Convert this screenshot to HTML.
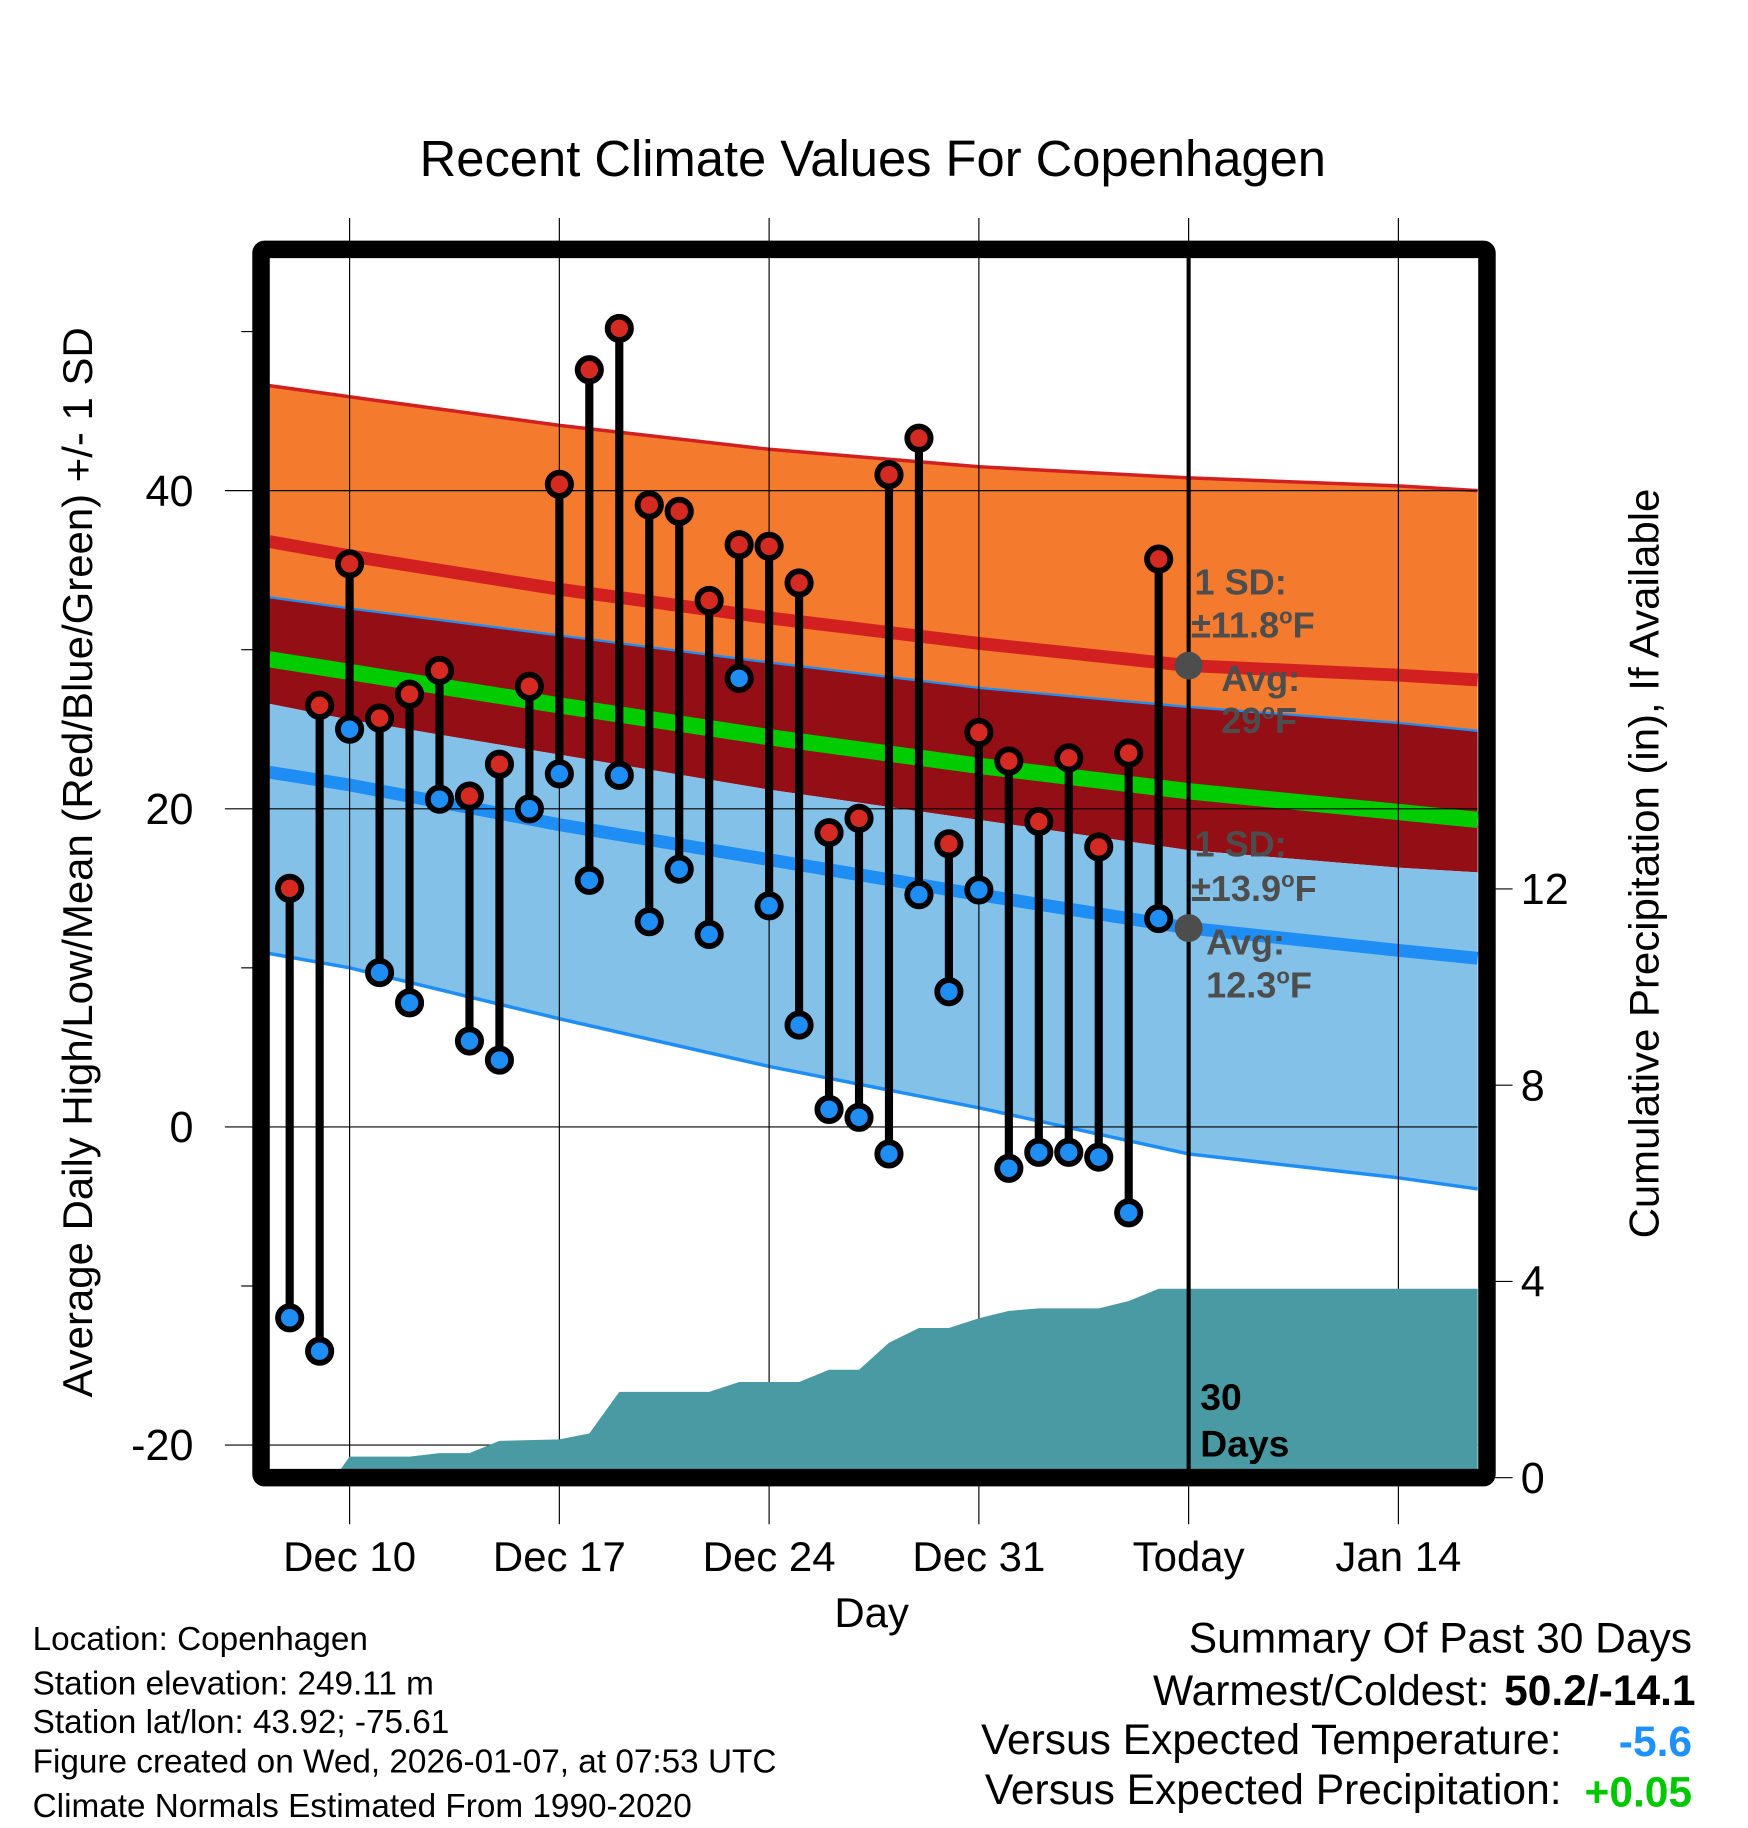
<!DOCTYPE html>
<html><head><meta charset="utf-8"><title>Recent Climate Values For Copenhagen</title>
<style>html,body{margin:0;padding:0;background:#fff}svg{display:block}text{font-family:"Liberation Sans",sans-serif}</style></head>
<body>
<svg id="chart" width="1748" height="1828" viewBox="0 0 1500 1568.6" xmlns="http://www.w3.org/2000/svg">
<rect x="0" y="0" width="1500" height="1568.6" fill="#fff"/>
<text x="749" y="151" font-size="43.5" text-anchor="middle">Recent Climate Values For Copenhagen</text>
<g id="bands"></g>
<g id="grid"></g>
<g id="precip"></g>
<g id="marks"></g>
<g id="annot"></g>
<rect x="224" y="214" width="1052" height="1054" fill="none" stroke="#000" stroke-width="15" rx="3"/>
<g id="axes"></g>
<text transform="translate(79,740) rotate(-90)" font-size="36" text-anchor="middle">Average Daily High/Low/Mean (Red/Blue/Green) +/- 1 SD</text>
<text transform="translate(1423,741) rotate(-90)" font-size="36" text-anchor="middle">Cumulative Precipitation (in), If Available</text>
<text x="748" y="1396" font-size="36" text-anchor="middle">Day</text>
<g font-size="28.6">
<text x="28" y="1416">Location: Copenhagen</text>
<text x="28" y="1454">Station elevation: 249.11 m</text>
<text x="28" y="1487">Station lat/lon: 43.92; -75.61</text>
<text x="28" y="1521">Figure created on Wed, 2026-01-07, at 07:53 UTC</text>
<text x="28" y="1559">Climate Normals Estimated From 1990-2020</text>
</g>
<g font-size="36.5">
<text x="1452" y="1418" text-anchor="end">Summary Of Past 30 Days</text>
<text x="1278" y="1463" text-anchor="end">Warmest/Coldest:</text>
<text x="1455" y="1463" text-anchor="end" font-weight="bold">50.2/-14.1</text>
<text x="1340" y="1505" text-anchor="end">Versus Expected Temperature:</text>
<text x="1452" y="1507" text-anchor="end" font-weight="bold" fill="#1e90ff">-5.6</text>
<text x="1340" y="1548" text-anchor="end">Versus Expected Precipitation:</text>
<text x="1452" y="1550" text-anchor="end" font-weight="bold" fill="#00c800">+0.05</text>
</g>
</svg>
<script>
// ---- data ----
const highs = [15,26.5,35.4,25.7,27.2,28.7,20.8,22.8,27.7,40.4,47.6,50.2,39.1,38.7,33.1,36.6,36.5,34.2,18.5,19.4,41,43.3,17.8,24.8,23,19.2,23.2,17.6,23.5,35.7];
const lows  = [-12,-14.1,25,9.7,7.8,20.6,5.4,4.2,20,22.2,15.5,22.1,12.9,16.2,12.1,28.2,13.9,6.4,1.1,0.6,-1.7,14.6,8.5,14.9,-2.6,-1.6,-1.6,-1.9,-5.4,13.1];
// normals sampled at days relative to Dec 10
const normDays = [-2.7,0,7,14,21,28,35,37.7];
const highPlusSD = [46.6,45.9,44.1,42.6,41.5,40.8,40.3,40];
const highAvg    = [36.8,35.9,33.8,32,30.4,29,28.4,28.1];
const highMinusSD= [33.3,32.6,30.9,29.2,27.6,26.4,25.4,24.9];
const meanAvg    = [29.4,28.6,26.5,24.5,22.7,21.1,19.8,19.3];
const lowPlusSD  = [26.6,25.6,23.4,21.2,19.3,17.4,16.3,16];
const lowAvg     = [22.3,21.5,19,16.8,14.6,12.5,11.1,10.6];
const lowMinusSD = [10.9,10,6.8,3.8,1.2,-1.7,-3.2,-3.9];
// cumulative precipitation (day index relative to Dec 8, inches)
const precipDays = [1.5,2,4,5,6,7,9,10,11,14,15,17,18,19,20,21,22,23,24,25,27,28,29,45];
const precipVals = [0,0.43,0.43,0.5,0.5,0.75,0.78,0.9,1.75,1.75,1.95,1.95,2.2,2.2,2.75,3.05,3.05,3.25,3.4,3.45,3.45,3.6,3.85,3.85];
const xTickDays = [0,7,14,21,28,35];
const xTickLabels = ["Dec 10","Dec 17","Dec 24","Dec 31","Today","Jan 14"];
const yTicks = [40,20,0,-20];
const yMinor = [50,30,10,-10];
const y2Ticks = [0,4,8,12];

// ---- axes ----
const X = d => 300 + d*25.714;           // days relative to Dec 10
const Y = t => 967 - t*13.65;            // temperature
const Y2 = p => 1268 - p*42.1;           // precipitation
const L = 231, R = 1268, T = 221, B = 1261;
const NS = "http://www.w3.org/2000/svg";
function mk(tag, attrs, parent){const e=document.createElementNS(NS,tag);for(const k in attrs)e.setAttribute(k,attrs[k]);parent.appendChild(e);return e;}
const bands=document.getElementById('bands'), grid=document.getElementById('grid'), precip=document.getElementById('precip'), marks=document.getElementById('marks'), annot=document.getElementById('annot'), axes=document.getElementById('axes');

function pts(arr){return normDays.map((d,i)=>[Math.min(R,Math.max(L,X(d))),Y(arr[i])]);}
function line(arr){return pts(arr).map(p=>p.join(',')).join(' ');}
function band(a,b){return line(a)+' '+pts(b).reverse().map(p=>p.join(',')).join(' ');}

let e;
e=mk('polygon',{points:band(highPlusSD,highMinusSD),fill:'#f47a2e'},bands);


e=mk('polygon',{points:band(highMinusSD,lowPlusSD),fill:'#930e15'},bands);


e=mk('polygon',{points:band(lowPlusSD,lowMinusSD),fill:'#84c1e8'},bands);



// grid
xTickDays.forEach((d,i)=>{
  e=mk('line',{x1:X(d),x2:X(d),y1:187,y2:1308,stroke:'#000','stroke-width':1},grid);
  
  
});
yTicks.forEach(t=>{
  e=mk('line',{x1:193,x2:R,y1:Y(t),y2:Y(t),stroke:'#000','stroke-width':1},grid);
  
  
});

// normal lines
e=mk('polyline',{points:line(highPlusSD),fill:'none',stroke:'#d22020','stroke-width':3},bands);


e=mk('polyline',{points:line(highMinusSD),fill:'none',stroke:'#1e8ef5','stroke-width':2},bands);


e=mk('polyline',{points:line(lowMinusSD),fill:'none',stroke:'#1e8ef5','stroke-width':3},bands);


e=mk('polyline',{points:line(highAvg),fill:'none',stroke:'#d22020','stroke-width':11},bands);


e=mk('polyline',{points:line(meanAvg),fill:'none',stroke:'#00cc00','stroke-width':14},bands);


e=mk('polyline',{points:line(lowAvg),fill:'none',stroke:'#1e8ef5','stroke-width':11},bands);



// precipitation
const pp = precipDays.map((d,i)=>[Math.min(R,X(d-2)),Y2(precipVals[i])]);
const ppStr = pp.map(p=>p.join(',')).join(' ') + ` ${R},${B} ${X(precipDays[0]-2)},${B}`;
e=mk('polygon',{points:ppStr,fill:'#4a9aa3'},precip);



// today line
e=mk('line',{x1:X(28),x2:X(28),y1:T-5,y2:B,stroke:'#000','stroke-width':3.5},precip);



// daily bars
highs.forEach((h,i)=>{
  const x=X(i-2);
  e=mk('line',{x1:x,x2:x,y1:Y(h),y2:Y(lows[i]),stroke:'#000','stroke-width':7},marks);
  
  
  e=mk('circle',{cx:x,cy:Y(h),r:10,fill:'#d42a22',stroke:'#000','stroke-width':5},marks);
  
  
  e=mk('circle',{cx:x,cy:Y(lows[i]),r:10,fill:'#1e8ef5',stroke:'#000','stroke-width':5},marks);
  
  
});

// annotations
const tx=X(28);
e=mk('circle',{cx:tx,cy:Y(highAvg[5]),r:12,fill:'#4d4d4d'},annot);


e=mk('circle',{cx:tx,cy:Y(lowAvg[5]),r:12,fill:'#4d4d4d'},annot);


annot.insertAdjacentHTML('beforeend',
`<g font-size="31" font-weight="bold" fill="#4d4d4d">
<text x="1025" y="510">1 SD:</text><text x="1022" y="547">±11.8<tspan dy="-12" font-size="19">o</tspan><tspan dy="12">F</tspan></text>
<text x="1048" y="593">Avg:</text><text x="1048" y="629">29<tspan dy="-12" font-size="19">o</tspan><tspan dy="12">F</tspan></text>
<text x="1025" y="735">1 SD:</text><text x="1022" y="773">±13.9<tspan dy="-12" font-size="19">o</tspan><tspan dy="12">F</tspan></text>
<text x="1035" y="819">Avg:</text><text x="1035" y="856">12.3<tspan dy="-12" font-size="19">o</tspan><tspan dy="12">F</tspan></text>
</g>
<g font-size="32" font-weight="bold" fill="#000"><text x="1030" y="1210">30</text><text x="1030" y="1250">Days</text></g>`);

// axis labels
yTicks.forEach(t=>{
  e=mk('text',{x:166,y:Y(t)+13,'font-size':37,'text-anchor':'end'},axes);
  e.textContent=t;
  
  
});
yMinor.forEach(t=>{
  e=mk('line',{x1:207,x2:217,y1:Y(t),y2:Y(t),stroke:'#000','stroke-width':1},axes);
  
  
});
y2Ticks.forEach(p=>{
  e=mk('line',{x1:1283,x2:1298,y1:Y2(p),y2:Y2(p),stroke:'#000','stroke-width':1},axes);
  
  
  e=mk('text',{x:1305,y:Y2(p)+13,'font-size':37},axes);
  e.textContent=p;
  
  
});
xTickDays.forEach((d,i)=>{
  e=mk('text',{x:X(d),y:1348,'font-size':36,'text-anchor':'middle'},axes);
  e.textContent=xTickLabels[i];
  
  
});
</script>
</body></html>
